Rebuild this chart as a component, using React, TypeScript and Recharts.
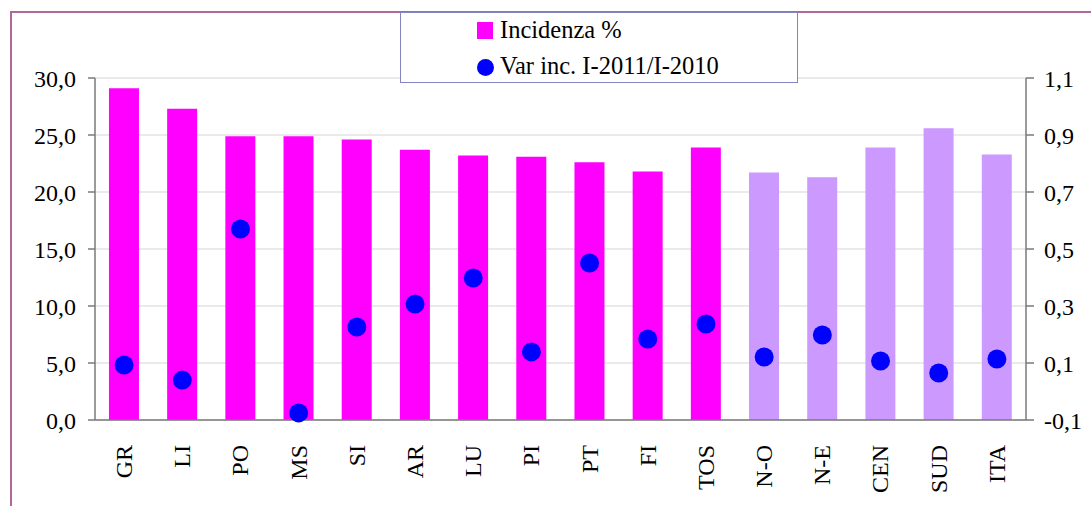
import React from 'react';
import { ComposedChart, Bar, Line, XAxis, YAxis, CartesianGrid, Cell } from 'recharts';

const categories = ['GR', 'LI', 'PO', 'MS', 'SI', 'AR', 'LU', 'PI', 'PT', 'FI', 'TOS', 'N-O', 'N-E', 'CEN', 'SUD', 'ITA'];
const incidenza = [29.1, 27.3, 24.9, 24.9, 24.6, 23.7, 23.2, 23.1, 22.6, 21.8, 23.9, 21.7, 21.3, 23.9, 25.6, 23.3];
const varInc = [0.093, 0.04, 0.57, -0.075, 0.226, 0.307, 0.398, 0.139, 0.451, 0.184, 0.237, 0.121, 0.198, 0.107, 0.065, 0.114];
// first 11 are provinces + Tuscany, the rest are macro areas
const areaGroup = ['p', 'p', 'p', 'p', 'p', 'p', 'p', 'p', 'p', 'p', 'p', 'a', 'a', 'a', 'a', 'a'];

const leftTicks = [0, 5, 10, 15, 20, 25, 30];
const rightTicks = [-0.1, 0.1, 0.3, 0.5, 0.7, 0.9, 1.1];

const MAGENTA = '#ff00ff';
const LILAC = '#cc99ff';
const BLUE = '#0000ff';
const FONT = '"Liberation Serif", "Times New Roman", serif';
const FS = 24;

const data = categories.map((name, i) => ({
  name,
  incidenza: incidenza[i],
  varInc: varInc[i],
  group: areaGroup[i],
}));

const fmt = (v: number) => v.toFixed(1).replace('.', ',');

const XTick = (props: any) => {
  const { x, y, payload } = props;
  return (
    <text
      transform={`translate(${x},${y + 17}) rotate(-90)`}
      textAnchor="end"
      dy="0.33em"
      fontFamily={FONT}
      fontSize={FS}
      fill="#000"
    >
      {payload.value}
    </text>
  );
};

const LegendBox = () => (
  <div
    style={{
      position: 'absolute',
      left: 400,
      top: 12,
      width: 398,
      height: 71,
      boxSizing: 'border-box',
      border: '1.5px solid #8585c2',
      background: '#fff',
      fontFamily: FONT,
      fontSize: 24.5,
      color: '#000',
    }}
  >
    <div style={{ position: 'absolute', left: 76, top: 9, width: 16, height: 17, background: MAGENTA }} />
    <div style={{ position: 'absolute', left: 99, top: 3, lineHeight: '28px' }}>Incidenza %</div>
    <div style={{ position: 'absolute', left: 76, top: 46, width: 17, height: 17, borderRadius: '50%', background: BLUE }} />
    <div style={{ position: 'absolute', left: 99, top: 39, lineHeight: '28px' }}>Var inc. I-2011/I-2010</div>
  </div>
);

export default function App() {
  return (
    <div style={{ position: 'absolute', left: 0, top: 0, width: 1091, height: 506, overflow: 'hidden', background: '#fff' }}>
      <div
        style={{
          position: 'absolute',
          left: 10,
          top: 11,
          width: 1200,
          height: 600,
          border: '2px solid #b0679a',
        }}
      />
      <ComposedChart
        width={1091}
        height={506}
        data={data}
        margin={{ top: 78, right: 0, left: 0, bottom: 0 }}
        barCategoryGap="24%"
        style={{ position: 'absolute', left: 0, top: 0 }}
      >
        <CartesianGrid yAxisId="left" vertical={false} stroke="#e3e3e3" strokeWidth={1.5} />
        <XAxis
          dataKey="name"
          height={86}
          interval={0}
          tickLine={false}
          axisLine={{ stroke: '#7a7a7a', strokeWidth: 1.5 }}
          tick={<XTick />}
        />
        <YAxis
          yAxisId="left"
          width={95}
          domain={[0, 30]}
          ticks={leftTicks}
          tickFormatter={fmt}
          tickSize={7}
          tickMargin={12}
          axisLine={{ stroke: '#7a7a7a', strokeWidth: 1.5 }}
          tickLine={{ stroke: '#7a7a7a', strokeWidth: 1.5 }}
          tick={{ fill: '#000', fontFamily: FONT, fontSize: FS }}
        />
        <YAxis
          yAxisId="right"
          orientation="right"
          width={65}
          domain={[-0.1, 1.1]}
          ticks={rightTicks}
          tickFormatter={fmt}
          tickSize={8}
          tickMargin={10}
          axisLine={{ stroke: '#7a7a7a', strokeWidth: 1.5 }}
          tickLine={{ stroke: '#7a7a7a', strokeWidth: 1.5 }}
          tick={{ fill: '#000', fontFamily: FONT, fontSize: FS }}
        />
        <Bar yAxisId="left" dataKey="incidenza" name="Incidenza %" fill={MAGENTA} isAnimationActive={false}>
          {data.map((d, i) => (
            <Cell key={i} fill={d.group === 'p' ? MAGENTA : LILAC} />
          ))}
        </Bar>
        <Line
          yAxisId="right"
          dataKey="varInc"
          name="Var inc. I-2011/I-2010"
          stroke="none"
          strokeWidth={0}
          dot={{ r: 9.5, fill: BLUE, stroke: 'none' }}
          activeDot={false}
          isAnimationActive={false}
        />
      </ComposedChart>
      <LegendBox />
    </div>
  );
}
